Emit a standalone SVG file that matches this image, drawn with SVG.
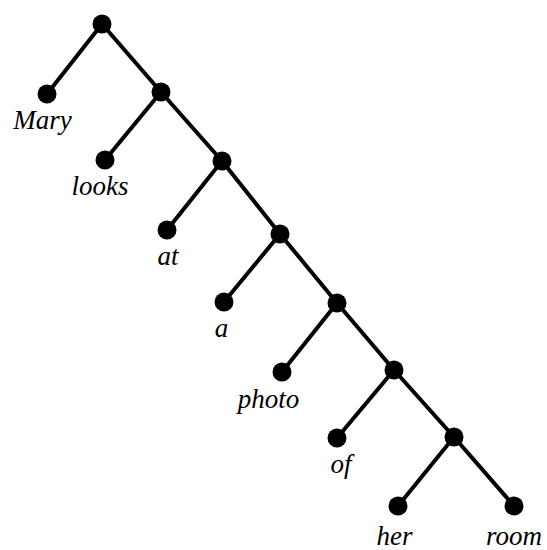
<svg xmlns="http://www.w3.org/2000/svg" width="547" height="550" viewBox="0 0 547 550">
<style>
.e{stroke:#000;stroke-width:4;fill:none;stroke-linecap:round}
.n{fill:#000}
.t{font-family:"Liberation Serif","Times New Roman",serif;font-style:italic;font-size:27px;fill:#000;text-anchor:middle}
</style>
<rect width="547" height="550" fill="#fff"/>
<g id="edges">
<line class="e" x1="102" y1="24" x2="47" y2="94"/>
<line class="e" x1="102" y1="24" x2="161" y2="92"/>
<line class="e" x1="161" y1="92" x2="105" y2="160"/>
<line class="e" x1="161" y1="92" x2="222" y2="161"/>
<line class="e" x1="222" y1="161" x2="167" y2="230"/>
<line class="e" x1="222" y1="161" x2="280" y2="234"/>
<line class="e" x1="280" y1="234" x2="224" y2="302"/>
<line class="e" x1="280" y1="234" x2="337" y2="303"/>
<line class="e" x1="337" y1="303" x2="282" y2="372"/>
<line class="e" x1="337" y1="303" x2="394" y2="370"/>
<line class="e" x1="394" y1="370" x2="337" y2="438"/>
<line class="e" x1="394" y1="370" x2="454" y2="437"/>
<line class="e" x1="454" y1="437" x2="398" y2="506"/>
<line class="e" x1="454" y1="437" x2="514" y2="506"/>
</g>
<g id="root"><circle class="n" cx="102" cy="24" r="9.5"/></g>
<g id="n2"><circle class="n" cx="161" cy="92" r="9.5"/></g>
<g id="n3"><circle class="n" cx="222" cy="161" r="9.5"/></g>
<g id="n4"><circle class="n" cx="280" cy="234" r="9.5"/></g>
<g id="n5"><circle class="n" cx="337" cy="303" r="9.5"/></g>
<g id="n6"><circle class="n" cx="394" cy="370" r="9.5"/></g>
<g id="n7"><circle class="n" cx="454" cy="437" r="9.5"/></g>
<g id="mary"><circle class="n" cx="47" cy="94" r="9.5"/><text class="t" x="42.5" y="129">Mary</text></g>
<g id="looks"><circle class="n" cx="105" cy="160" r="9.5"/><text class="t" x="100" y="195">looks</text></g>
<g id="at"><circle class="n" cx="167" cy="230" r="9.5"/><text class="t" x="168" y="265">at</text></g>
<g id="a"><circle class="n" cx="224" cy="302" r="9.5"/><text class="t" x="221.5" y="337">a</text></g>
<g id="photo"><circle class="n" cx="282" cy="372" r="9.5"/><text class="t" x="268.5" y="408">photo</text></g>
<g id="of"><circle class="n" cx="337" cy="438" r="9.5"/><text class="t" x="341" y="473">of</text></g>
<g id="her"><circle class="n" cx="398" cy="506" r="9.5"/><text class="t" x="394.5" y="545">her</text></g>
<g id="room"><circle class="n" cx="514" cy="506" r="9.5"/><text class="t" x="514" y="545">room</text></g>
</svg>
